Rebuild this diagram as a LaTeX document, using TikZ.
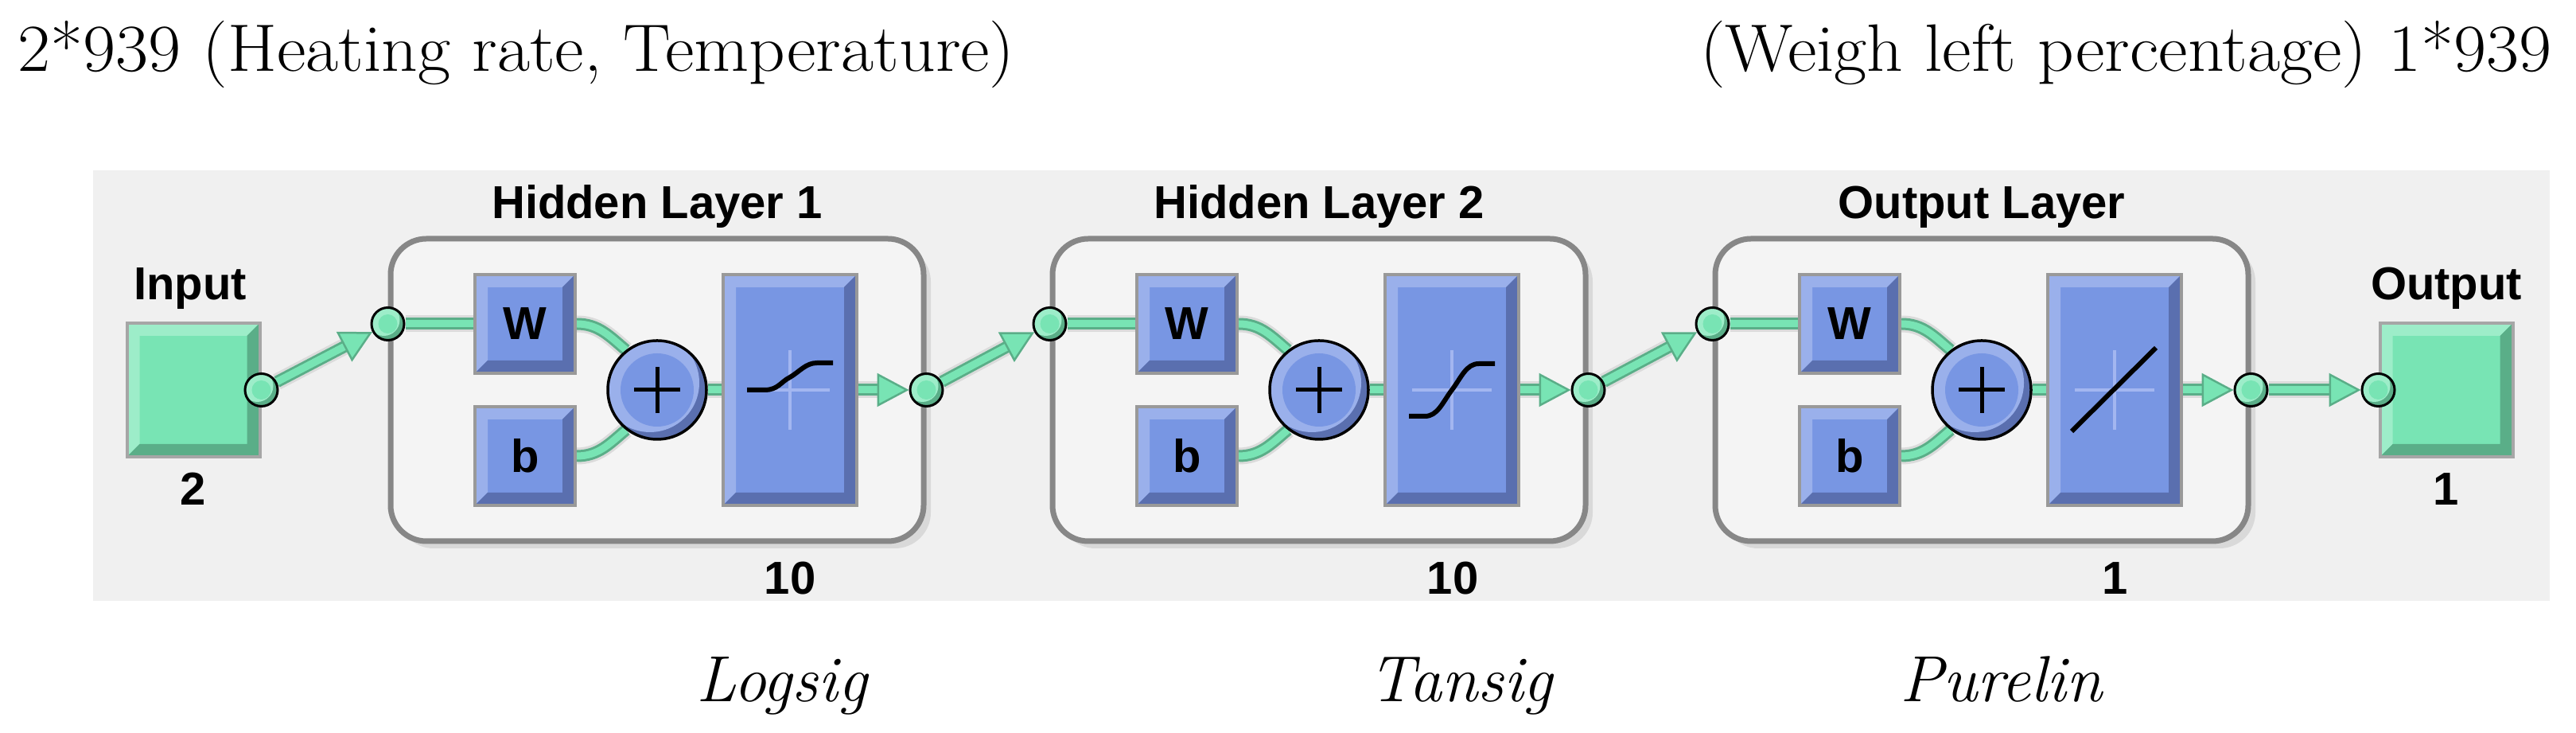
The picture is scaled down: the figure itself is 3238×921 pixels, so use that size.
\documentclass[tikz,border=0pt]{standalone}
\usepackage{fontspec}
\newfontfamily\guifont{Liberation Sans}
\usetikzlibrary{calc, shadows, arrows.meta}

\definecolor{panelgray}{HTML}{F0F0F0}
\definecolor{boxfill}{HTML}{F4F4F4}
\definecolor{boxedge}{HTML}{878787}
\definecolor{bluemain}{HTML}{7896E3}
\definecolor{bluelight}{HTML}{9AB0EB}
\definecolor{bluedark}{HTML}{5A6FAF}
\definecolor{greenmain}{HTML}{78E4B4}
\definecolor{greenlight}{HTML}{9DEDC9}
\definecolor{greendark}{HTML}{5AAE88}
\definecolor{crossblue}{HTML}{A3B6F0}

\pgfdeclarelayer{back}
\pgfdeclarelayer{wires}
\pgfsetlayers{back,wires,main}

\newcommand{\guitext}{\guifont\bfseries\fontsize{16.5}{19.8}\selectfont}
\newcommand{\notetext}{\fontsize{24}{28.8}\selectfont}
\newcommand{\widetext}[1]{\scalebox{1.06}[1]{#1}}

\tikzset{
  bevelled/.style 2 args={path picture={
    \fill[#1] (path picture bounding box.south west) -- (path picture bounding box.north west)
      -- (path picture bounding box.north east) -- ++(-16,-16)
      -- ($(path picture bounding box.north west)+(16,-16)$)
      -- ($(path picture bounding box.south west)+(16,16)$) -- cycle;
    \fill[#2] (path picture bounding box.south west) -- (path picture bounding box.south east)
      -- (path picture bounding box.north east) -- ++(-16,-16)
      -- ($(path picture bounding box.south east)+(-16,16)$)
      -- ($(path picture bounding box.south west)+(16,16)$) -- cycle;}},
  bluebox/.style={draw=black!40, line width=0.4mm, fill=bluemain, inner sep=0,
    minimum width=12.6mm, minimum height=12.4mm, bevelled={bluelight}{bluedark}, font=\guitext},
  greenbox/.style={draw=black!35, line width=0.4mm, fill=greenmain, inner sep=0,
    minimum width=16.7mm, minimum height=16.8mm, bevelled={greenlight}{greendark}},
  layerbox/.style={draw=boxedge, line width=0.7mm, fill=boxfill, rounded corners=4.5mm,
    minimum width=67mm, minimum height=38mm,
    drop shadow={shadow xshift=0.9mm, shadow yshift=-0.9mm, fill=black!15, opacity=1}},
  sumnode/.style={circle, draw=black, line width=0.35mm, fill=bluedark, inner sep=0, minimum size=12.4mm,
    path picture={
      \fill[bluelight] ($(path picture bounding box.center)+(-9,9)$) circle (62);
      \fill[bluemain] (path picture bounding box.center) circle (46);
      \draw[line width=0.5mm] ($(path picture bounding box.center)+(-29,0)$) -- ++(58,0)
        ($(path picture bounding box.center)+(0,-29)$) -- ++(0,58);}},
  jdot/.style={circle, draw=black, line width=0.3mm, fill=greendark, inner sep=0, minimum size=4.1mm,
    path picture={
      \fill[greenlight] ($(path picture bounding box.center)+(-5,5)$) circle (20);
      \fill[greenmain] (path picture bounding box.center) circle (12);}},
  wire/.style={draw=greendark, line width=1.5mm, preaction={draw=black!14, line width=2.1mm},
    postaction={draw=greenmain, line width=0.9mm}},
  feed/.style={wire, shorten >=2.5mm, postaction={draw=greenmain, line width=0.9mm, shorten >=0mm,
    -{Triangle[length=4mm, width=4.2mm, line width=0.25mm, color=greendark, fill=greenmain]}}},
  faxis/.style={crossblue, line width=0.4mm},
  fcurve/.style={black, line width=0.6mm},
  lbl/.style={inner sep=0, font=\guitext, anchor=base},
  note/.style={inner sep=0, font=\notetext, anchor=base}
}

\begin{document}
\begin{tikzpicture}[x=0.1mm, y=0.1mm]
\useasboundingbox (0,0) rectangle (3238,921);
\begin{pgfonlayer}{back}
  \fill[white] (0,0) rectangle (3238,921);
  \fill[panelgray] (117,166) rectangle (3205,707);
  \node[layerbox] (L1) at (826,431) {};
  \node[layerbox] (L2) at (1658,431) {};
  \node[layerbox] (L3) at (2491,431) {};
\end{pgfonlayer}

% texts above and below the network
\node[note, anchor=base west] (tl) at (22,831) {\widetext{2*939 (Heating rate, Temperature)}};
\node[note, anchor=base east] (tr) at (3208,831) {\widetext{(Weigh left percentage) 1*939}};
\node[note, font=\fontsize{23.3}{28}\selectfont] (f1) at (984,39) {\textit{Logsig}};
\node[note, font=\fontsize{23.3}{28}\selectfont] (f2) at (1837,39) {\textit{Tansig}};
\node[note, font=\fontsize{23.3}{28}\selectfont] (f3) at (2516,39) {\textit{Purelin}};

% input
\node[greenbox] (In) at (243,431) {};
\node[lbl] at (239,544) {Input};
\node[lbl] at (243,286) {2};
\node[jdot] (D0) at (In.east) {};

% hidden layer 1
\node[lbl] at (826,646) {Hidden Layer 1};
\node[bluebox] (W1) at (660,514) {W};
\node[bluebox] (B1) at (660,348) {b};
\node[sumnode] (S1) at (826,431) {};
\node[bluebox, minimum width=16.8mm, minimum height=29mm] (F1) at (993,431) {};
\node[lbl] at (993,174) {10};
\node[jdot] (I1) at (L1.west |- W1) {};
\node[jdot] (O1) at (L1.east) {};
\begin{scope}[shift={(F1.center)}]
  \draw[faxis] (-50,0) -- (50,0) (0,-50) -- (0,50);
  \draw[fcurve] (-54,0) -- (-32,0) .. controls (-15,0) and (-12,10) .. (0,16)
    .. controls (12,23) and (20,34) .. (34,34) -- (54,34);
\end{scope}

% hidden layer 2
\node[lbl] at (1658,646) {Hidden Layer 2};
\node[bluebox] (W2) at (1492,514) {W};
\node[bluebox] (B2) at (1492,348) {b};
\node[sumnode] (S2) at (1658,431) {};
\node[bluebox, minimum width=16.8mm, minimum height=29mm] (F2) at (1825,431) {};
\node[lbl] at (1826,174) {10};
\node[jdot] (I2) at (L2.west |- W2) {};
\node[jdot] (O2) at (L2.east) {};
\begin{scope}[shift={(F2.center)}]
  \draw[faxis] (-50,0) -- (50,0) (0,-50) -- (0,50);
  \draw[fcurve] (-54,-33) -- (-34,-33) .. controls (-18,-33) and (-12,-16) .. (0,0)
    .. controls (12,16) and (18,33) .. (34,33) -- (54,33);
\end{scope}

% output layer
\node[lbl] at (2491,646) {Output Layer};
\node[bluebox] (W3) at (2325,514) {W};
\node[bluebox] (B3) at (2325,348) {b};
\node[sumnode] (S3) at (2491,431) {};
\node[bluebox, minimum width=16.8mm, minimum height=29mm] (F3) at (2658,431) {};
\node[lbl] at (2659,174) {1};
\node[jdot] (I3) at (L3.west |- W3) {};
\node[jdot] (O3) at (L3.east) {};
\begin{scope}[shift={(F3.center)}]
  \draw[faxis] (-50,0) -- (50,0) (0,-50) -- (0,50);
  \draw[fcurve] (-54,-52) -- (52,53);
\end{scope}

% output
\node[greenbox] (Out) at (3075,431) {};
\node[lbl] at (3075,544) {Output};
\node[lbl] at (3075,286) {1};
\node[jdot] (D4) at (Out.west) {};

\begin{pgfonlayer}{wires}
  \draw[feed] (D0) -- (I1);
  \draw[wire] (I1) -- (W1);
  \draw[wire] (W1.east) to[out=0, in=140] (S1.128);
  \draw[wire] (B1.east) to[out=0, in=220] (S1.232);
  \draw[wire] (S1) -- (F1);
  \draw[feed] (F1) -- (O1);
  \draw[feed] (O1) -- (I2);
  \draw[wire] (I2) -- (W2);
  \draw[wire] (W2.east) to[out=0, in=140] (S2.128);
  \draw[wire] (B2.east) to[out=0, in=220] (S2.232);
  \draw[wire] (S2) -- (F2);
  \draw[feed] (F2) -- (O2);
  \draw[feed] (O2) -- (I3);
  \draw[wire] (I3) -- (W3);
  \draw[wire] (W3.east) to[out=0, in=140] (S3.128);
  \draw[wire] (B3.east) to[out=0, in=220] (S3.232);
  \draw[wire] (S3) -- (F3);
  \draw[feed] (F3) -- (O3);
  \draw[feed] (O3) -- (D4);
\end{pgfonlayer}
\end{tikzpicture}
\end{document}
